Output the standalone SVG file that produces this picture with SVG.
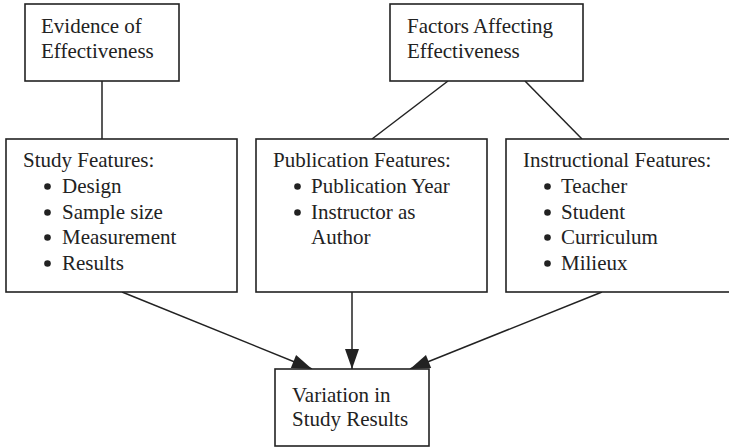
<svg xmlns="http://www.w3.org/2000/svg" width="729" height="447" viewBox="0 0 729 447">
<style>
.box{fill:#fff;stroke:#222;stroke-width:1.6}
.t{font-family:"Liberation Serif","Times New Roman",serif;font-size:21px;fill:#222}
.c{stroke:#222;stroke-width:1.5;fill:none}
.b{fill:#222}
</style>
<defs>
<marker id="ah" markerUnits="userSpaceOnUse" markerWidth="24" markerHeight="24" viewBox="0 0 24 24" refX="21" refY="12" orient="auto">
<path d="M1,5 L21,12 L1,19 Z" fill="#222"/>
</marker>
</defs>
<rect width="729" height="447" fill="#fff"/>
<g id="connectors">
<line class="c" x1="102" y1="81" x2="102" y2="139"/>
<line class="c" x1="448" y1="81" x2="372" y2="139"/>
<line class="c" x1="525" y1="81" x2="582" y2="139"/>
<line class="c" x1="122" y1="292" x2="312" y2="369" marker-end="url(#ah)"/>
<line class="c" x1="352" y1="292" x2="352" y2="369" marker-end="url(#ah)"/>
<line class="c" x1="602" y1="292" x2="410" y2="369" marker-end="url(#ah)"/>
</g>
<g id="evidence">
<rect class="box" x="25" y="4" width="154" height="77"/>
<text class="t" x="41" y="33">Evidence of</text>
<text class="t" x="41" y="58">Effectiveness</text>
</g>
<g id="factors">
<rect class="box" x="390" y="4" width="193" height="77"/>
<text class="t" x="407" y="33">Factors Affecting</text>
<text class="t" x="407" y="58">Effectiveness</text>
</g>
<g id="study">
<rect class="box" x="6" y="139" width="231" height="153"/>
<text class="t" x="23" y="167">Study Features:</text>
<circle class="b" cx="47.5" cy="186.5" r="3.3"/>
<text class="t" x="62" y="193">Design</text>
<circle class="b" cx="47.5" cy="212.5" r="3.3"/>
<text class="t" x="62" y="219">Sample size</text>
<circle class="b" cx="47.5" cy="237.5" r="3.3"/>
<text class="t" x="62" y="244">Measurement</text>
<circle class="b" cx="47.5" cy="263.5" r="3.3"/>
<text class="t" x="62" y="270">Results</text>
</g>
<g id="publication">
<rect class="box" x="256" y="139" width="231" height="153"/>
<text class="t" x="273" y="167">Publication Features:</text>
<circle class="b" cx="297.5" cy="186.5" r="3.3"/>
<text class="t" x="311" y="193">Publication Year</text>
<circle class="b" cx="297.5" cy="212.5" r="3.3"/>
<text class="t" x="311" y="219">Instructor as</text>
<text class="t" x="311" y="244">Author</text>
</g>
<g id="instructional">
<rect class="box" x="506" y="139" width="240" height="153"/>
<text class="t" x="523" y="167">Instructional Features:</text>
<circle class="b" cx="547.5" cy="186.5" r="3.3"/>
<text class="t" x="561" y="193">Teacher</text>
<circle class="b" cx="547.5" cy="212.5" r="3.3"/>
<text class="t" x="561" y="219">Student</text>
<circle class="b" cx="547.5" cy="237.5" r="3.3"/>
<text class="t" x="561" y="244">Curriculum</text>
<circle class="b" cx="547.5" cy="263.5" r="3.3"/>
<text class="t" x="561" y="270">Milieux</text>
</g>
<g id="variation">
<rect class="box" x="275" y="369" width="154" height="77"/>
<text class="t" x="292" y="402">Variation in</text>
<text class="t" x="292" y="426">Study Results</text>
</g>
</svg>
